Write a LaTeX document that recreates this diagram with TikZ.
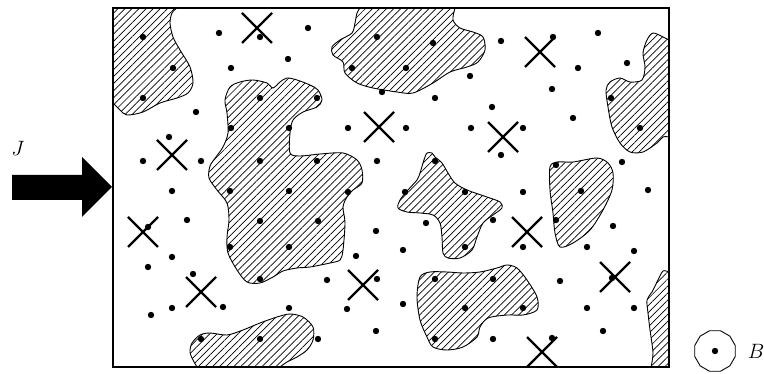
\documentclass[tikz,border=0pt]{standalone}
\usepackage{amsmath,amssymb}
\usepackage{tikz}
\usetikzlibrary{patterns.meta,shapes.geometric}
\tikzset{
  field/.style={draw=black,line width=1.3pt},
  grain/.style={draw=black,line width=0.9pt,
    pattern={Lines[angle=45,distance=5pt,line width=0.7pt]},pattern color=black},
  edgegrain/.style={pattern={Lines[angle=45,distance=5pt,line width=0.7pt]},pattern color=black},
  rim/.style={draw=black,line width=0.9pt},
  atom/.style={fill=black},
  vacancy/.style={draw=black,line width=2.4pt},
  flux/.style={fill=black},
  labelstyle/.style={font=\huge,inner sep=0pt}
}

\begin{document}
\begin{tikzpicture}[x=1pt,y=-1pt]
  \useasboundingbox (0,0) rectangle (764,374);
  % grains touching the border
  \path[edgegrain] (113,8) -- plot[smooth] coordinates {(177,8) (172,13) (170,23) (173,37) (180,50) (190,67) (193,83) (188,93) (177,98) (160,103) (143,112) (127,115) (120,110) (113,103)} -- cycle;
  \draw[rim] plot[smooth] coordinates {(177,8) (172,13) (170,23) (173,37) (180,50) (190,67) (193,83) (188,93) (177,98) (160,103) (143,112) (127,115) (120,110) (113,103)};
  \path[edgegrain] plot[smooth] coordinates {(360,8) (357,13) (355,23) (352,33) (340,40) (332,47) (333,55) (343,62) (345,73) (357,83) (373,88) (397,92) (413,93) (433,83) (450,72) (467,67) (478,62) (485,50) (483,37) (473,32) (460,28) (453,20) (455,8)} -- cycle;
  \draw[rim] plot[smooth] coordinates {(360,8) (357,13) (355,23) (352,33) (340,40) (332,47) (333,55) (343,62) (345,73) (357,83) (373,88) (397,92) (413,93) (433,83) (450,72) (467,67) (478,62) (485,50) (483,37) (473,32) (460,28) (453,20) (455,8)};
  \path[edgegrain] (669,40) -- plot[smooth] coordinates {(663,37) (653,33) (647,40) (643,53) (645,67) (642,80) (630,82) (620,78) (610,82) (606,90) (608,107) (612,127) (620,143) (630,152) (643,152) (657,143) (663,137) (669,137)} -- cycle;
  \draw[rim] plot[smooth] coordinates {(669,40) (663,37) (653,33) (647,40) (643,53) (645,67) (642,80) (630,82) (620,78) (610,82) (606,90) (608,107) (612,127) (620,143) (630,152) (643,152) (657,143) (663,137) (669,137)};
  \path[edgegrain] (669,367) -- (669,272) -- plot[smooth] coordinates {(663,271) (658,280) (652,292) (647,300) (648,313) (650,330) (653,353) (651,367)} -- cycle;
  \draw[rim] plot[smooth] coordinates {(669,272) (663,271) (658,280) (652,292) (647,300) (648,313) (650,330) (653,353) (651,367)};
  \path[edgegrain] (197,367) -- plot[smooth] coordinates {(193,360) (190,352) (192,343) (200,335) (210,333) (227,335) (243,330) (260,323) (277,317) (290,314) (303,317) (313,327) (313,340) (307,350) (297,357) (287,362) (280,367)} -- cycle;
  \draw[rim] plot[smooth] coordinates {(197,367) (193,360) (190,352) (192,343) (200,335) (210,333) (227,335) (243,330) (260,323) (277,317) (290,314) (303,317) (313,327) (313,340) (307,350) (297,357) (287,362) (280,367)};
  % inner grains
  \draw[grain] plot[smooth cycle] coordinates {(230,87) (240,82) (253,80) (267,83) (273,88) (280,82) (287,78) (297,80) (310,85) (318,90) (322,100) (317,107) (303,112) (293,120) (290,133) (290,153) (300,156) (320,154) (343,153) (357,160) (362,170) (362,183) (353,190) (347,197) (343,207) (345,223) (343,250) (340,260) (330,263) (310,267) (297,268) (283,271) (273,277) (260,283) (247,282) (237,270) (228,253) (227,237) (229,220) (227,203) (217,190) (209,178) (210,166) (216,157) (223,147) (228,133) (227,113) (225,100)};
  \draw[grain] plot[smooth cycle] coordinates {(427,153) (432,153) (435,157) (442,163) (448,173) (455,183) (467,190) (487,197) (500,202) (502,208) (493,215) (483,223) (477,237) (472,250) (460,258) (448,258) (443,253) (442,237) (440,223) (433,215) (420,213) (407,212) (398,208) (400,200) (408,190) (417,180) (420,173) (423,163) (425,157)};
  \draw[grain] plot[smooth cycle] coordinates {(550,167) (557,162) (573,162) (597,158) (608,163) (613,173) (612,190) (603,210) (590,230) (573,243) (560,247) (555,233) (553,213) (550,190)};
  \draw[grain] plot[smooth cycle] coordinates {(420,277) (430,272) (447,272) (463,273) (480,272) (497,268) (507,265) (517,268) (527,280) (537,297) (537,310) (523,315) (507,315) (488,318) (480,327) (477,337) (463,347) (447,350) (433,347) (427,337) (420,320) (417,297)};
  % sample
  \draw[field] (113,8) rectangle (669,367);
  % atoms
  \foreach \x/\y in {143/37,219/33,260/37,308/28,173/68,231/68,288/59,143/98,196/112,260/98,317/98,
      169/137,231/128,289/128,143/161,201/161,260/161,317/161,
      172/191,230/191,289/191,187/220,260/221,318/221,148/227,230/247,289/247,172/257,148/267,
      193/274,260/279,327/280,223/307,172/308,151/315,289/308,201/339,260/339,318/339,348/192,
      377/37,433/43,352/68,406/68,382/92,501/41,470/76,435/98,492/107,348/128,406/128,471/128,
      523/128,501/155,377/161,435/161,
      553/37,598/33,627/63,578/68,552/89,573/118,611/98,640/128,622/162,556/165,
      581/191,556/220,648/190,613/226,587/247,634/251,612/278,560/281,587/308,634/308,603/331,552/338,
      405/192,465/192,465/247,493/220,426/223,376/231,356/256,403/250,523/192,523/247,
      377/279,347/309,403/304,376/331,493/339,435/279,493/279,465/308,523/308,435/339}
    \fill[atom] (\x,\y) circle (3.2);
  % vacancies
  \foreach \x/\y in {257/28,172/155,143/232,201/292,379/127,503/137,540/52,527/232,363/285,615/277,542/352}
    \draw[vacancy] (\x-15,\y-15) -- (\x+15,\y+15) (\x-15,\y+15) -- (\x+15,\y-15);
  % flux
  \fill[flux] (12,175) -- (82,175) -- (82,157) -- (112,187) -- (82,217) -- (82,200) -- (12,200) -- cycle;
  \node[labelstyle] (jlabel) at (18,148) {$J$};
  % legend
  \node[draw,line width=0.9pt,regular polygon,regular polygon sides=12,minimum size=42pt,inner sep=0pt] (bead) at (715,351) {};
  \fill[atom] (bead.center) circle (3.2);
  \node[labelstyle] (blabel) at (756,351) {$B$};
\end{tikzpicture}
\end{document}
